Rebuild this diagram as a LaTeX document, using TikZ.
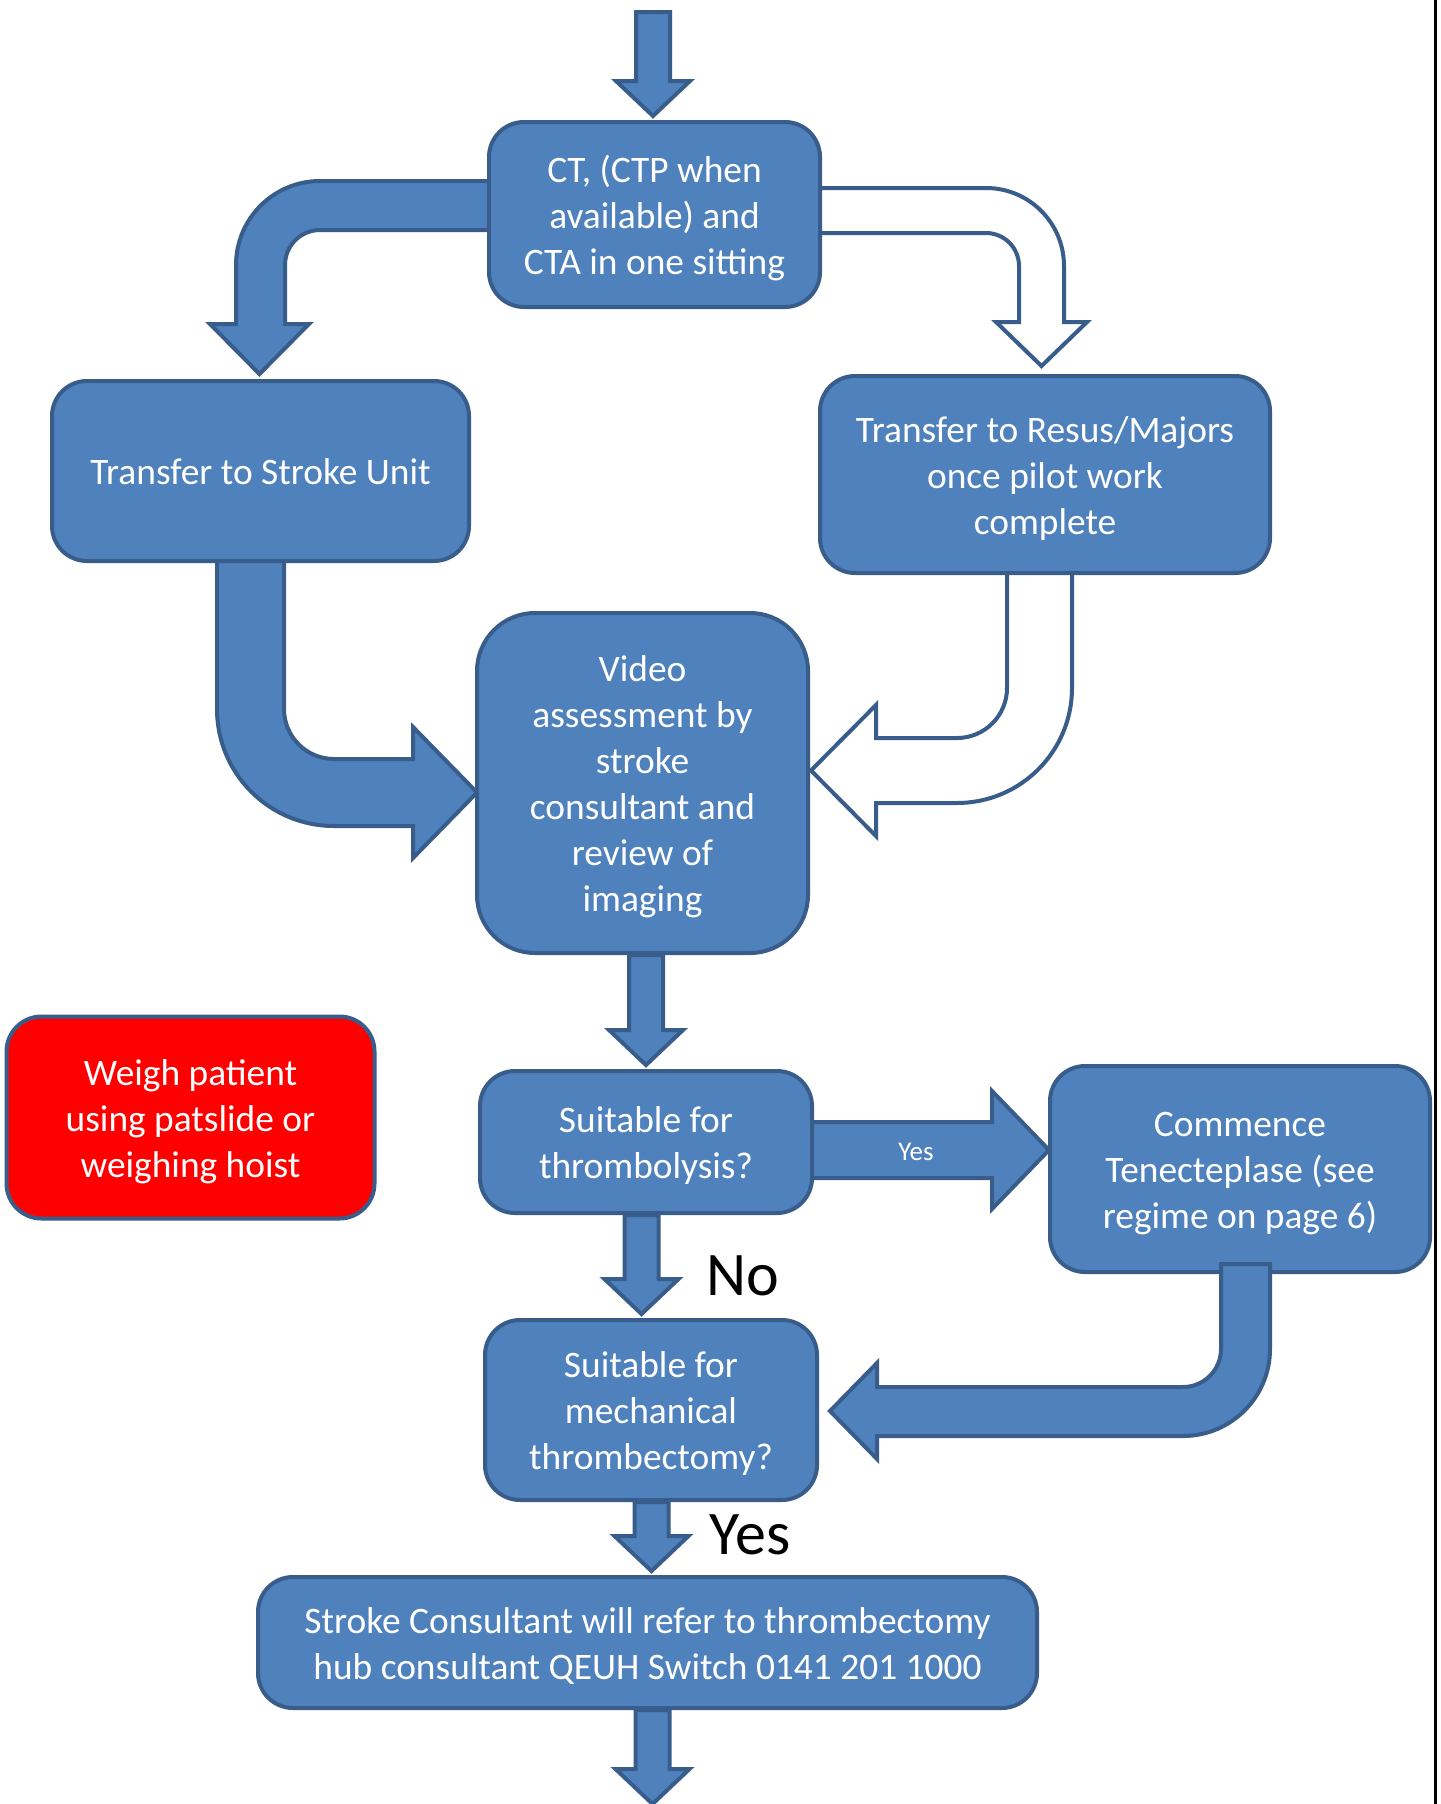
\documentclass[tikz,border=0pt]{standalone}
\usepackage{fontspec}
\setmainfont{Carlito}
\usetikzlibrary{calc,backgrounds}

\definecolor{boxblue}{HTML}{4F81BD}
\definecolor{edgeblue}{HTML}{385D8A}

% line strut: fixes the height of first and the depth of last line
\newcommand{\tstrut}{\rule[-4.5pt]{0pt}{22.5pt}}

\tikzset{
  flowbox/.style={draw=edgeblue, fill=boxblue, line width=2pt, rounded corners=17.5pt,
    text=white, align=center, inner sep=0pt, font=\fontsize{18.7}{23}\selectfont},
  redbox/.style={flowbox, fill=red},
  blockarrow/.style={draw=edgeblue, fill=boxblue, line width=2pt},
  hollowarrow/.style={draw=edgeblue, fill=white, line width=2pt},
  biglabel/.style={inner sep=0pt, font=\fontsize{31}{36}\selectfont},
  smalllabel/.style={inner sep=0pt, text=white, font=\fontsize{13.5}{16}\selectfont}
}

% straight block arrow pointing down: [x offset]{from}{to}
\newcommand{\downblock}[3][0]{%
  \filldraw[blockarrow] ($(#3 |- #2)+(#1-17,0)$) -- ($(#3)+(#1-17,-39)$)
    -- ($(#3)+(#1-37,-39)$) -- ($(#3)+(#1,-4)$) -- ($(#3)+(#1+37,-39)$)
    -- ($(#3)+(#1+17,-39)$) -- ($(#3 |- #2)+(#1+17,0)$) -- cycle;}

\begin{document}
\begin{tikzpicture}[x=0.5pt,y=-0.5pt]
    \useasboundingbox (0,0) rectangle (1440,1804);

    % Boxes
    \node[flowbox, minimum width=165.5pt, minimum height=92.5pt] (ct) at (654.5,214.5)
        {\tstrut CT, (CTP when\\available) and\\CTA in one sitting\tstrut};
    \node[flowbox, minimum width=208.5pt, minimum height=90pt] (stroke) at (260.5,471)
        {\tstrut Transfer to Stroke Unit};
    \node[flowbox, minimum width=225pt, minimum height=98.5pt] (resus) at (1045,474.5)
        {\tstrut Transfer to Resus/Majors\\once pilot work\\complete\tstrut};
    \node[flowbox, rounded corners=29pt, minimum width=165.5pt, minimum height=170pt] (video) at (642.5,783)
        {\tstrut Video\\assessment by\\stroke\\consultant and\\review of\\imaging\tstrut};
    \node[redbox, minimum width=184pt, minimum height=101pt] (weigh) at (190.5,1117.5)
        {\tstrut Weigh patient\\using patslide or\\weighing hoist\tstrut};
    \node[flowbox, minimum width=166pt, minimum height=71pt] (thromb) at (646,1142)
        {\tstrut Suitable for\\thrombolysis?\tstrut};
    \node[flowbox, minimum width=190pt, minimum height=103pt] (tenect) at (1240,1169)
        {\tstrut Commence\\Tenecteplase (see\\regime on page 6)\tstrut};
    \node[flowbox, minimum width=166pt, minimum height=90pt] (mech) at (651,1410)
        {\tstrut Suitable for\\mechanical\\thrombectomy?\tstrut};
    \node[flowbox, minimum width=389.5pt, minimum height=65.5pt] (consult) at (647.5,1642.5)
        {\tstrut Stroke Consultant will refer to thrombectomy\\hub consultant QEUH Switch 0141 201 1000\tstrut};

    \coordinate (top) at (653,12);
    \coordinate (exit) at (652.5,1808);

    % Labels
    \node[biglabel] (no) at (743,1276) {No};
    \node[biglabel] (yes) at (750,1535) {Yes};

    % Arrows behind the boxes
    \begin{scope}[on background layer]
        \fill[white] (0,0) rectangle (1440,1804);
        \downblock[-1.5]{top}{ct.north}
        \downblock{video.south}{thromb.north}
        \downblock[-9.5]{thromb.south}{mech.north}
        \downblock[4]{mech.south}{consult.north}
        \downblock{consult.south}{exit}
        % CT to stroke unit
        \filldraw[blockarrow] (495,181) -- (320,181) arc[start angle=270,end angle=180,radius=84]
            -- (236,324) -- (210,324) -- (259.5,374) -- (309,324) -- (285,324)
            -- (285,265) arc[start angle=180,end angle=270,radius=35] -- (495,230) -- cycle;
        % CT to resus
        \filldraw[hollowarrow] (812,188) -- (986,188) arc[start angle=270,end angle=360,radius=78]
            -- (1064,322) -- (1087,322) -- (1041.5,366) -- (996,322) -- (1019,322)
            -- (1019,266) arc[start angle=0,end angle=-90,radius=33] -- (812,233) -- cycle;
        % stroke unit to video
        \filldraw[blockarrow] (284,555) -- (284,709) arc[start angle=180,end angle=90,radius=50]
            -- (413,759) -- (413,727) -- (477,792.5) -- (413,858) -- (413,826)
            -- (334,826) arc[start angle=90,end angle=180,radius=117] -- (217,555) -- cycle;
        % resus to video
        \filldraw[hollowarrow] (1007,565) -- (1007,688) arc[start angle=0,end angle=90,radius=50]
            -- (876,738) -- (876,705) -- (811,770.5) -- (876,836) -- (876,803)
            -- (957,803) arc[start angle=90,end angle=0,radius=115] -- (1072,565) -- cycle;
        % thrombolysis to tenecteplase
        \filldraw[blockarrow] (808,1122) -- (992,1122) -- (992,1091) -- (1049,1150)
            -- (992,1209) -- (992,1178) -- (808,1178) -- cycle;
    \end{scope}
    \node[smalllabel] (yessmall) at (916,1152) {Yes};

    % tenecteplase to thrombectomy
    \filldraw[blockarrow] (1221,1264) -- (1221,1349) arc[start angle=0,end angle=90,radius=38]
        -- (877,1387) -- (877,1363) -- (830,1411) -- (877,1459) -- (877,1436)
        -- (1183,1436) arc[start angle=90,end angle=0,radius=87] -- (1270,1264) -- cycle;

    % page edge
    \draw[line width=1.5pt] (1435,0) -- (1435,1804);
\end{tikzpicture}
\end{document}
